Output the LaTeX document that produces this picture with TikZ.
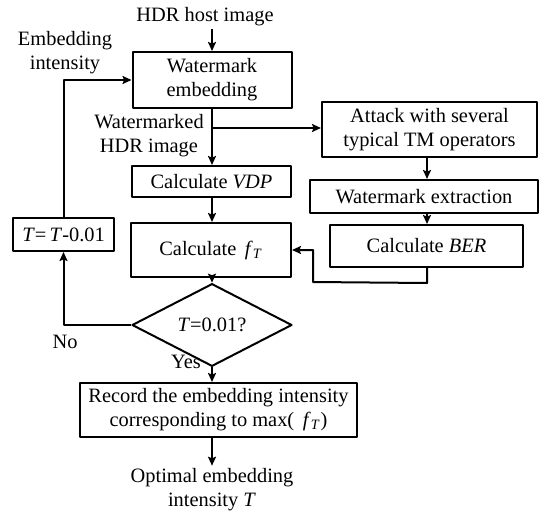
\documentclass[tikz,border=0pt]{standalone}
\usepackage{fontspec}
\setmainfont{Liberation Serif}
\usetikzlibrary{shapes.geometric,arrows.meta}
\begin{document}
\begin{tikzpicture}[x=0.5pt,y=-0.5pt,>={Stealth[length=4.5pt,width=4pt,inset=0.8pt]},
  line width=1pt, line join=round,
  font=\fontsize{10.2}{12}\selectfont,
  box/.style={draw, inner sep=1pt, align=center},
  decision/.style={draw, diamond, inner sep=0pt, minimum width=80pt, minimum height=23.5pt},
  txt/.style={inner sep=1pt, align=center}]
\useasboundingbox (0,0) rectangle (540,519);
% main column
\node[txt] (host) at (205,17) {HDR host image};
\node[box, minimum width=79.5pt, minimum height=28pt] (embed) at (212,80) {Watermark\\embedding};
\node[box, minimum width=79.5pt, minimum height=15.5pt] (vdp) at (211.5,181.5) {Calculate \textit{VDP}};
\node[box, minimum width=80pt, minimum height=27pt] (fT) at (211,250) {Calculate\, \textit{f}\textsubscript{\textit{T}}};
\node[decision] (dec) at (212,325) {\textit{T}=0.01?};
\node[box, minimum width=138.5pt, minimum height=27pt] (rec) at (218.5,410) {Record the embedding intensity\\corresponding to max(\, \textit{f}\textsubscript{\textit{T}})};
\node[txt] (opt) at (212,490) {Optimal embedding\\intensity \textit{T}};
% left loop
\node[box, minimum width=50.5pt, minimum height=16.5pt] (upd) at (63.5,234.5) {\textit{T}=\,\textit{T}-0.01};
\node[txt] (intens) at (65,53) {Embedding\\intensity};
\node[txt] (wm) at (149,135.5) {Watermarked\\HDR image};
\node[txt] (no) at (65,342) {No};
\node[txt] (yes) at (186,362) {Yes};
% right column
\node[box, minimum width=107.5pt, minimum height=27.5pt] (attack) at (429.5,129.5) {Attack with several\\typical TM operators};
\node[box, minimum width=114pt, minimum height=16.5pt] (extr) at (424,196.5) {Watermark extraction};
\node[box, minimum width=96.5pt, minimum height=21pt] (ber) at (426.5,246) {Calculate \textit{BER}};
\coordinate (br) at (212,128);
% connectors
\draw[->] (host.south -| embed.north) -- (embed.north);
\draw[->] (embed.south) -- (embed.south |- vdp.north);
\draw[->] (br) -- (br -| attack.west);
\draw[->] (vdp.south -| embed.south) -- (embed.south |- fT.north);
\draw[->] (fT.south -| dec.north) -- (dec.north);
\draw[->] (dec.south) -- (dec.south |- rec.north);
\draw[->] (dec.south |- rec.south) -- (dec.south |- opt.north);
\draw[->] (dec.west) -| (upd.south);
\draw[->] (upd.north) |- (embed.west);
\draw[->] (attack.south -| 427,0) -- (427,0 |- extr.north);
\draw[->] (427,0 |- extr.south) -- (427,0 |- ber.north);
\draw[->] (427,0 |- ber.south) -- ++(0,15) -- (313,282) |- (fT.east);
\end{tikzpicture}
\end{document}
